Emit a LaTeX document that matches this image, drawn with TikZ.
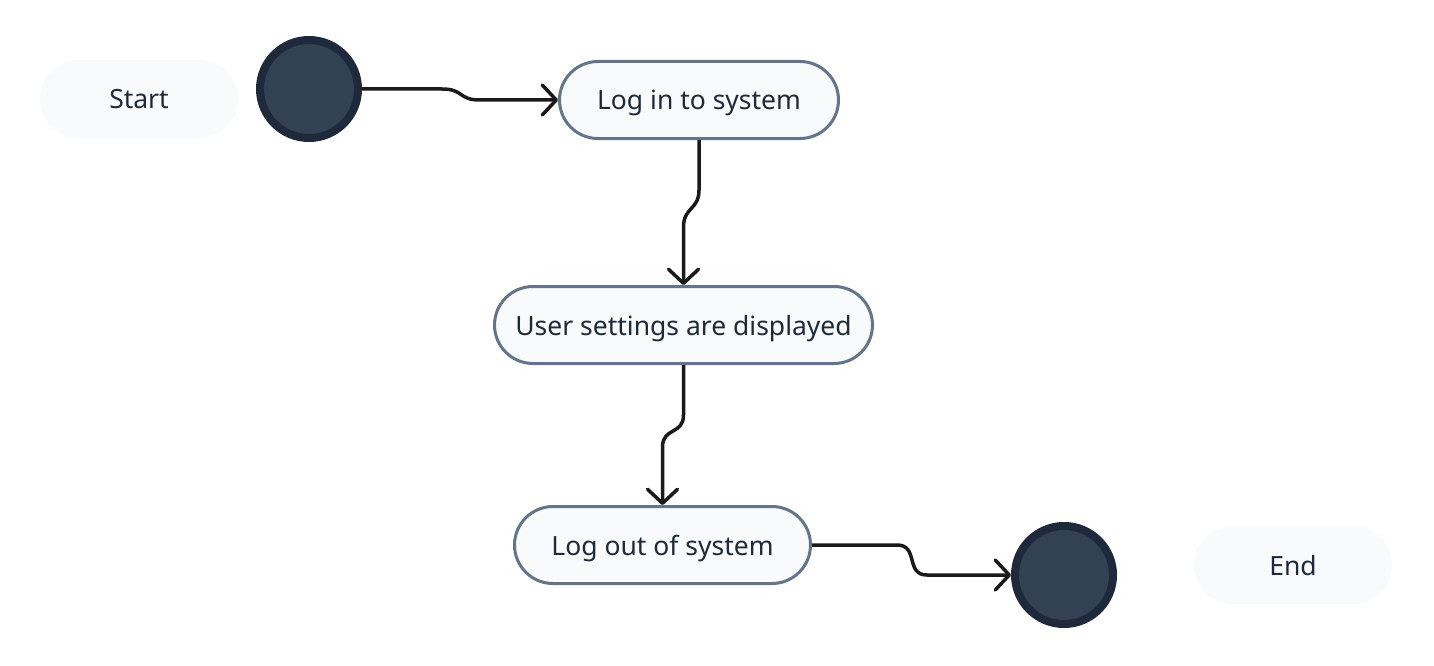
\documentclass[tikz,border=0pt]{standalone}
\usepackage{fontspec}
\setmainfont{Noto Sans}
\usetikzlibrary{arrows.meta,calc}
\definecolor{pillfill}{HTML}{F8FAFC}
\definecolor{pillborder}{HTML}{64748B}
\definecolor{txt}{HTML}{1E293B}
\definecolor{dotfill}{HTML}{334155}
\definecolor{dotborder}{HTML}{1E293B}
\definecolor{wire}{HTML}{1A1A1A}
\begin{document}
\begin{tikzpicture}[x=1pt,y=-1pt,
  lbl/.style={fill=pillfill,draw=none,rounded corners=39pt,minimum height=78pt,minimum width=198pt,
    font=\fontsize{26.5}{30}\selectfont,text=txt,inner sep=0pt,text height=20pt,text depth=0pt},
  act/.style={fill=pillfill,draw=pillborder,line width=3pt,rounded corners=38.5pt,minimum height=77pt,
    font=\fontsize{26.5}{30}\selectfont,text=txt,inner sep=0pt,text height=20pt,text depth=0pt},
  dot/.style={circle,fill=dotfill,draw=dotborder,line width=8pt,minimum size=98pt,inner sep=0pt},
  conn/.style={draw=wire,line width=3.5pt,line join=round,-{Straight Barb[length=14pt,width=30pt,round]}}]
\path[use as bounding box,fill=white] (0,0) rectangle (1434,666);
\node[lbl] (startlbl) at (139,99) {Start};
\node[dot] (s1) at (309,89) {};
\node[act,minimum width=279pt] (login) at (699,100) {Log in to system};
\node[act,minimum width=378pt] (user) at (683.5,325) {User settings are displayed};
\node[act,minimum width=296pt] (logout) at (662.5,545) {Log out of system};
\node[dot] (e1) at (1064,575) {};
\node[lbl] (endlbl) at (1293,565) {End};
\draw[conn] (s1.east) -- ++(80,0) .. controls +(22,0) and +(-22,0) .. ($(login.west)+(-78,0)$) -- (login.west);
\draw[conn] (login.south) -- ++(0,50) .. controls +(0,20) and +(0,-20) .. ($(user.north)+(0,-58)$) -- (user.north);
\draw[conn] (user.south) -- ++(0,50) .. controls +(0,20) and +(0,-20) .. ($(logout.north)+(0,-58)$) -- (logout.north);
\draw[conn] (logout.east) -- ++(85,0) .. controls +(22,0) and +(-22,0) .. ($(e1.west)+(-84,0)$) -- (e1.west);
\end{tikzpicture}
\end{document}
